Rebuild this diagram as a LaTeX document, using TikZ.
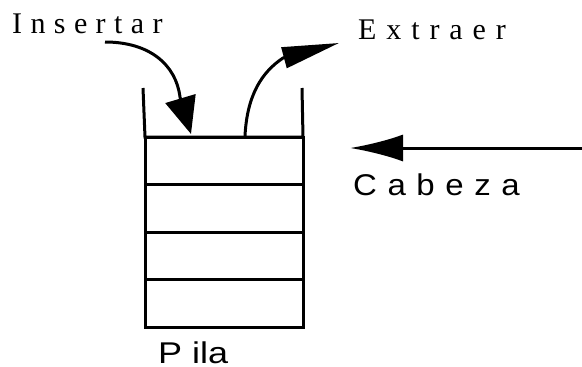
\documentclass[tikz,border=0pt]{standalone}
\usepackage{fontspec}
\usepackage{graphicx}
\setmainfont{Liberation Serif}
\newfontfamily\insfont[LetterSpace=28]{Liberation Serif}
\newfontfamily\extfont[LetterSpace=33]{Liberation Serif}
\newfontfamily\cabfont[LetterSpace=32]{Liberation Sans}
\newfontfamily\plainsans{Liberation Sans}
\usetikzlibrary{arrows.meta}
\tikzset{
  cell/.style={draw, line width=3pt, minimum width=158pt, minimum height=47.5pt, inner sep=0pt, outer sep=0pt},
  wall/.style={line width=3pt},
  bigarrow/.style={line width=3pt},
  lbl/.style={anchor=base west, inner sep=0pt},
}
\begin{document}
\begin{tikzpicture}[x=1pt,y=-1pt]
\useasboundingbox (0,0) rectangle (582,367);
% stack cells
\node[cell] (c1) at (224,160.75) {};
\node[cell] (c2) at (224,208.25) {};
\node[cell] (c3) at (224,255.75) {};
\node[cell] (c4) at (224,303.25) {};
% open top walls
\coordinate (wl) at (143,88);
\coordinate (wr) at (302,88);
\draw[wall] (wl) -- (c1.north west) -- (c1.north east) -- (wr);
% labels
\node[lbl] (ins) at (12,33) {\insfont\fontsize{30}{30}\selectfont Insertar};
\node[lbl] (ext) at (358,39) {\extfont\fontsize{30}{30}\selectfont Extraer};
\node[lbl] (cab) at (353,195) {\scalebox{1.1}[1]{\cabfont\fontsize{30}{30}\selectfont Cabeza}};
\node[lbl] (pila) at (158,363) {\scalebox{1.2}[1]{\plainsans\fontsize{30}{30}\selectfont P ila}};
% arrows
\coordinate (ins0) at (105,42);
\coordinate (ins1) at (191,134);
\draw[bigarrow, -{Triangle[length=37pt,width=31pt]}] (ins0) .. controls (150,42) and (176,65) .. (180,97) -- (ins1);
\coordinate (ext0) at (245,136);
\coordinate (ext1) at (339,43);
\draw[bigarrow, -{Triangle[length=57pt,width=21pt]}] (ext0) .. controls (247,95) and (262,72) .. (283,58) -- (ext1);
\coordinate (cab0) at (582,148);
\coordinate (cab1) at (350,148);
\draw[bigarrow, -{Latex[length=53pt,width=27pt]}] (cab0) -- (cab1);
\end{tikzpicture}
\end{document}
